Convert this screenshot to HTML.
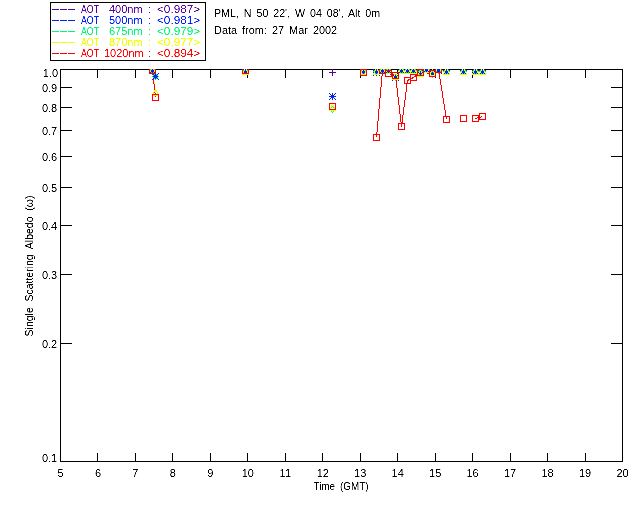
<!DOCTYPE html><html><head><meta charset="utf-8"><style>html,body{margin:0;padding:0;background:#fff;}svg{display:block;will-change:transform}text{font-family:"Liberation Sans",sans-serif;}</style></head><body>
<svg width="640" height="512" viewBox="0 0 640 512">
<rect width="640" height="512" fill="#fff"/>
<defs><filter id="k" x="0" y="0" width="640" height="512" filterUnits="userSpaceOnUse" color-interpolation-filters="sRGB"><feComponentTransfer><feFuncA type="linear" slope="2" intercept="-0.5"/></feComponentTransfer></filter><clipPath id="c"><rect x="60" y="69" width="563" height="393"/></clipPath>
<path id="sP" d="M-3 0h1v1h-1zM-2 0h1v1h-1zM-1 0h1v1h-1zM0 0h1v1h-1zM1 0h1v1h-1zM2 0h1v1h-1zM3 0h1v1h-1zM0 -3h1v1h-1zM0 -2h1v1h-1zM0 -1h1v1h-1zM0 1h1v1h-1zM0 2h1v1h-1zM0 3h1v1h-1z"/>
<path id="sB" d="M-3 0h1v1h-1zM-2 0h1v1h-1zM-1 0h1v1h-1zM0 0h1v1h-1zM1 0h1v1h-1zM2 0h1v1h-1zM3 0h1v1h-1zM0 -3h1v1h-1zM0 -2h1v1h-1zM0 -1h1v1h-1zM0 1h1v1h-1zM0 2h1v1h-1zM0 3h1v1h-1zM-3 -3h1v1h-1zM-2 -2h1v1h-1zM-1 -1h1v1h-1zM1 1h1v1h-1zM2 2h1v1h-1zM3 3h1v1h-1zM-3 3h1v1h-1zM-2 2h1v1h-1zM-1 1h1v1h-1zM1 -1h1v1h-1zM2 -2h1v1h-1zM3 -3h1v1h-1z"/>
<path id="sG" d="M-3 0h1v1h-1zM-2 -1h1v1h-1zM-1 -2h1v1h-1zM0 -3h1v1h-1zM1 -2h1v1h-1zM2 -1h1v1h-1zM3 0h1v1h-1zM2 1h1v1h-1zM1 2h1v1h-1zM0 3h1v1h-1zM-1 2h1v1h-1zM-2 1h1v1h-1z"/>
<path id="sY" d="M0 -3h1v1h-1zM-1 -2h1v1h-1zM1 -2h1v1h-1zM-1 -1h1v1h-1zM1 -1h1v1h-1zM-2 0h1v1h-1zM2 0h1v1h-1zM-2 1h1v1h-1zM2 1h1v1h-1zM-3 2h1v1h-1zM3 2h1v1h-1zM-3 3h1v1h-1zM-2 3h1v1h-1zM-1 3h1v1h-1zM0 3h1v1h-1zM1 3h1v1h-1zM2 3h1v1h-1zM3 3h1v1h-1z"/>
<path id="sR" d="M-3 -3h1v1h-1zM-2 -3h1v1h-1zM-1 -3h1v1h-1zM0 -3h1v1h-1zM1 -3h1v1h-1zM2 -3h1v1h-1zM3 -3h1v1h-1zM-3 3h1v1h-1zM-2 3h1v1h-1zM-1 3h1v1h-1zM0 3h1v1h-1zM1 3h1v1h-1zM2 3h1v1h-1zM3 3h1v1h-1zM-3 -2h1v1h-1zM-3 -1h1v1h-1zM-3 0h1v1h-1zM-3 1h1v1h-1zM-3 2h1v1h-1zM3 -2h1v1h-1zM3 -1h1v1h-1zM3 0h1v1h-1zM3 1h1v1h-1zM3 2h1v1h-1z"/>
</defs>
<g shape-rendering="crispEdges" stroke="#000" stroke-width="1" fill="none">
<rect x="60.5" y="69.5" width="562" height="392"/>
<path d="M97.5 461V453M97.5 70V78M135.5 461V453M135.5 70V78M172.5 461V453M172.5 70V78M210.5 461V453M210.5 70V78M247.5 461V453M247.5 70V78M285.5 461V453M285.5 70V78M322.5 461V453M322.5 70V78M360.5 461V453M360.5 70V78M397.5 461V453M397.5 70V78M435.5 461V453M435.5 70V78M472.5 461V453M472.5 70V78M510.5 461V453M510.5 70V78M547.5 461V453M547.5 70V78M585.5 461V453M585.5 70V78M61 343.5H72M622 343.5H611M61 274.5H72M622 274.5H611M61 225.5H72M622 225.5H611M61 187.5H72M622 187.5H611M61 156.5H72M622 156.5H611M61 130.5H72M622 130.5H611M61 107.5H72M622 107.5H611M61 87.5H72M622 87.5H611"/>
</g>
<g font-size="11" fill="#000" filter="url(#k)">
<text x="60.5" y="477" text-anchor="middle">5</text>
<text x="97.97" y="477" text-anchor="middle">6</text>
<text x="135.43" y="477" text-anchor="middle">7</text>
<text x="172.9" y="477" text-anchor="middle">8</text>
<text x="210.37" y="477" text-anchor="middle">9</text>
<text x="247.83" y="477" text-anchor="middle">10</text>
<text x="285.3" y="477" text-anchor="middle">11</text>
<text x="322.77" y="477" text-anchor="middle">12</text>
<text x="360.23" y="477" text-anchor="middle">13</text>
<text x="397.7" y="477" text-anchor="middle">14</text>
<text x="435.17" y="477" text-anchor="middle">15</text>
<text x="472.63" y="477" text-anchor="middle">16</text>
<text x="510.1" y="477" text-anchor="middle">17</text>
<text x="547.57" y="477" text-anchor="middle">18</text>
<text x="585.03" y="477" text-anchor="middle">19</text>
<text x="622.5" y="477" text-anchor="middle">20</text>
<text x="58" y="77" text-anchor="end">1.0</text>
<text x="57.2" y="92" text-anchor="end">0.9</text>
<text x="57.2" y="112" text-anchor="end">0.8</text>
<text x="57.2" y="135" text-anchor="end">0.7</text>
<text x="57.2" y="161" text-anchor="end">0.6</text>
<text x="57.2" y="192" text-anchor="end">0.5</text>
<text x="57.2" y="230" text-anchor="end">0.4</text>
<text x="57.2" y="279" text-anchor="end">0.3</text>
<text x="57.2" y="348" text-anchor="end">0.2</text>
<text x="57.2" y="462" text-anchor="end">0.1</text>
<text x="341" y="490" text-anchor="middle" word-spacing="2.5" textLength="54.9" lengthAdjust="spacingAndGlyphs">Time (GMT)</text>
<text transform="translate(33,266) rotate(-90)" text-anchor="middle" word-spacing="3" textLength="140.8" lengthAdjust="spacingAndGlyphs">Single Scattering Albedo (ω)</text>
<text x="214" y="17" word-spacing="2" textLength="166.2" lengthAdjust="spacingAndGlyphs">PML, N 50 22', W 04 08', Alt 0m</text>
<text x="214" y="34" word-spacing="2" textLength="123.2" lengthAdjust="spacingAndGlyphs">Data from: 27 Mar 2002</text>
</g>
<g shape-rendering="crispEdges">
<rect x="50.5" y="2.5" width="155" height="58" fill="none" stroke="#000"/>
<path d="M52 9.5H59M60 9.5H67M68 9.5H75" stroke="#5600a2" fill="none"/>
<path d="M52 20.5H59M60 20.5H67M68 20.5H75" stroke="#0020ff" fill="none"/>
<path d="M52 31.5H59M60 31.5H67M68 31.5H75" stroke="#00f87a" fill="none"/>
<path d="M52 42.5H59M60 42.5H67M68 42.5H75" stroke="#f0ff00" fill="none"/>
<path d="M52 53.5H59M60 53.5H67M68 53.5H75" stroke="#ff0000" fill="none"/>
</g>
<g font-size="11" filter="url(#k)">
<text x="81" y="13" fill="#5600a2" textLength="18" lengthAdjust="spacingAndGlyphs">AOT</text>
<text x="109" y="13" fill="#5600a2">400nm</text>
<text x="148" y="13" fill="#5600a2">:</text>
<text x="157" y="13" fill="#5600a2" textLength="43.2" lengthAdjust="spacingAndGlyphs">&lt;0.987&gt;</text>
<text x="81" y="24" fill="#0020ff" textLength="18" lengthAdjust="spacingAndGlyphs">AOT</text>
<text x="109" y="24" fill="#0020ff">500nm</text>
<text x="148" y="24" fill="#0020ff">:</text>
<text x="157" y="24" fill="#0020ff" textLength="43.2" lengthAdjust="spacingAndGlyphs">&lt;0.981&gt;</text>
<text x="81" y="35" fill="#00f87a" textLength="18" lengthAdjust="spacingAndGlyphs">AOT</text>
<text x="109" y="35" fill="#00f87a">675nm</text>
<text x="148" y="35" fill="#00f87a">:</text>
<text x="157" y="35" fill="#00f87a" textLength="43.2" lengthAdjust="spacingAndGlyphs">&lt;0.979&gt;</text>
<text x="81" y="46" fill="#f0ff00" textLength="18" lengthAdjust="spacingAndGlyphs">AOT</text>
<text x="109" y="46" fill="#f0ff00">870nm</text>
<text x="148" y="46" fill="#f0ff00">:</text>
<text x="157" y="46" fill="#f0ff00" textLength="43.2" lengthAdjust="spacingAndGlyphs">&lt;0.977&gt;</text>
<text x="81" y="57" fill="#ff0000" textLength="18" lengthAdjust="spacingAndGlyphs">AOT</text>
<text x="104" y="57" fill="#ff0000">1020nm</text>
<text x="148" y="57" fill="#ff0000">:</text>
<text x="157" y="57" fill="#ff0000" textLength="43.2" lengthAdjust="spacingAndGlyphs">&lt;0.894&gt;</text>
</g>
<g clip-path="url(#c)">
<g shape-rendering="crispEdges" fill="none" stroke-width="1">
<path d="M152.5 70.5 L155.5 76.5" stroke="#5600a2"/>
<path d="M376.5 70.5 L382.5 70.5 L388.5 70.5 L395.5 77.5 L401.5 70.5 L407.5 70.5 L413.5 70.5 L420.5 70.5 L426.5 69.5 L432.5 70.5 L438.5 70.5 L446.5 70.5" stroke="#5600a2"/>
<path d="M475.5 70.5 L482.5 70.5" stroke="#5600a2"/>
<path d="M152.5 70.5 L155.5 76.5" stroke="#0020ff"/>
<path d="M376.5 72.5 L382.5 70.5 L388.5 70.5 L395.5 77.5 L401.5 70.5 L407.5 70.5 L413.5 70.5 L420.5 72.5 L426.5 69.5 L432.5 73.5 L438.5 70.5 L446.5 71.5" stroke="#0020ff"/>
<path d="M475.5 71.5 L482.5 71.5" stroke="#0020ff"/>
<path d="M152.5 70.5 L155.5 76.5" stroke="#00f87a"/>
<path d="M376.5 71.5 L382.5 70.5 L388.5 70.5 L395.5 77.5 L401.5 70.5 L407.5 70.5 L413.5 70.5 L420.5 72.5 L426.5 69.5 L432.5 74.5 L438.5 70.5 L446.5 71.5" stroke="#00f87a"/>
<path d="M475.5 71.5 L482.5 71.5" stroke="#00f87a"/>
<path d="M152.5 70.5 L155.5 92.5" stroke="#f0ff00"/>
<path d="M376.5 71.5 L382.5 70.5 L388.5 70.5 L395.5 76.5 L401.5 70.5 L407.5 70.5 L413.5 70.5 L420.5 73.5 L426.5 69.5 L432.5 72.5 L438.5 69.5 L446.5 71.5" stroke="#f0ff00"/>
<path d="M475.5 71.5 L482.5 71.5" stroke="#f0ff00"/>
<path d="M152.5 70.5 L155.5 97.5" stroke="#ff0000"/>
<path d="M376.5 137.5 L382.5 70.5 L388.5 73.5 L395.5 75.5 L401.5 126.5 L407.5 80.5 L413.5 77.5 L420.5 72.5 L432.5 73.5 L438.5 69.5 L446.5 119.5" stroke="#ff0000"/>
<path d="M475.5 118.5 L482.5 116.5" stroke="#ff0000"/>
</g>
<g shape-rendering="crispEdges">
<use href="#sP" x="152" y="70" fill="#5600a2"/>
<use href="#sP" x="155" y="76" fill="#5600a2"/>
<use href="#sP" x="245" y="70" fill="#5600a2"/>
<use href="#sP" x="332" y="72" fill="#5600a2"/>
<use href="#sP" x="363" y="70" fill="#5600a2"/>
<use href="#sP" x="376" y="70" fill="#5600a2"/>
<use href="#sP" x="382" y="70" fill="#5600a2"/>
<use href="#sP" x="388" y="70" fill="#5600a2"/>
<use href="#sP" x="395" y="77" fill="#5600a2"/>
<use href="#sP" x="401" y="70" fill="#5600a2"/>
<use href="#sP" x="407" y="70" fill="#5600a2"/>
<use href="#sP" x="413" y="70" fill="#5600a2"/>
<use href="#sP" x="420" y="70" fill="#5600a2"/>
<use href="#sP" x="426" y="69" fill="#5600a2"/>
<use href="#sP" x="432" y="70" fill="#5600a2"/>
<use href="#sP" x="438" y="70" fill="#5600a2"/>
<use href="#sP" x="446" y="70" fill="#5600a2"/>
<use href="#sP" x="463" y="70" fill="#5600a2"/>
<use href="#sP" x="475" y="70" fill="#5600a2"/>
<use href="#sP" x="482" y="70" fill="#5600a2"/>
<use href="#sB" x="152" y="70" fill="#0020ff"/>
<use href="#sB" x="155" y="76" fill="#0020ff"/>
<use href="#sB" x="245" y="71" fill="#0020ff"/>
<use href="#sB" x="332" y="96" fill="#0020ff"/>
<use href="#sB" x="363" y="72" fill="#0020ff"/>
<use href="#sB" x="376" y="72" fill="#0020ff"/>
<use href="#sB" x="382" y="70" fill="#0020ff"/>
<use href="#sB" x="388" y="70" fill="#0020ff"/>
<use href="#sB" x="395" y="77" fill="#0020ff"/>
<use href="#sB" x="401" y="70" fill="#0020ff"/>
<use href="#sB" x="407" y="70" fill="#0020ff"/>
<use href="#sB" x="413" y="70" fill="#0020ff"/>
<use href="#sB" x="420" y="72" fill="#0020ff"/>
<use href="#sB" x="426" y="69" fill="#0020ff"/>
<use href="#sB" x="432" y="73" fill="#0020ff"/>
<use href="#sB" x="438" y="70" fill="#0020ff"/>
<use href="#sB" x="446" y="71" fill="#0020ff"/>
<use href="#sB" x="463" y="71" fill="#0020ff"/>
<use href="#sB" x="475" y="71" fill="#0020ff"/>
<use href="#sB" x="482" y="71" fill="#0020ff"/>
<use href="#sG" x="152" y="70" fill="#00f87a"/>
<use href="#sG" x="155" y="76" fill="#00f87a"/>
<use href="#sG" x="245" y="71" fill="#00f87a"/>
<use href="#sG" x="332" y="109" fill="#00f87a"/>
<use href="#sG" x="363" y="71" fill="#00f87a"/>
<use href="#sG" x="376" y="71" fill="#00f87a"/>
<use href="#sG" x="382" y="70" fill="#00f87a"/>
<use href="#sG" x="388" y="70" fill="#00f87a"/>
<use href="#sG" x="395" y="77" fill="#00f87a"/>
<use href="#sG" x="401" y="70" fill="#00f87a"/>
<use href="#sG" x="407" y="70" fill="#00f87a"/>
<use href="#sG" x="413" y="70" fill="#00f87a"/>
<use href="#sG" x="420" y="72" fill="#00f87a"/>
<use href="#sG" x="426" y="69" fill="#00f87a"/>
<use href="#sG" x="432" y="74" fill="#00f87a"/>
<use href="#sG" x="438" y="70" fill="#00f87a"/>
<use href="#sG" x="446" y="71" fill="#00f87a"/>
<use href="#sG" x="463" y="71" fill="#00f87a"/>
<use href="#sG" x="475" y="71" fill="#00f87a"/>
<use href="#sG" x="482" y="71" fill="#00f87a"/>
<use href="#sY" x="152" y="70" fill="#f0ff00"/>
<use href="#sY" x="155" y="92" fill="#f0ff00"/>
<use href="#sY" x="245" y="71" fill="#f0ff00"/>
<use href="#sY" x="332" y="107" fill="#f0ff00"/>
<use href="#sY" x="363" y="71" fill="#f0ff00"/>
<use href="#sY" x="376" y="71" fill="#f0ff00"/>
<use href="#sY" x="382" y="70" fill="#f0ff00"/>
<use href="#sY" x="388" y="70" fill="#f0ff00"/>
<use href="#sY" x="395" y="76" fill="#f0ff00"/>
<use href="#sY" x="401" y="70" fill="#f0ff00"/>
<use href="#sY" x="407" y="70" fill="#f0ff00"/>
<use href="#sY" x="413" y="70" fill="#f0ff00"/>
<use href="#sY" x="420" y="73" fill="#f0ff00"/>
<use href="#sY" x="426" y="69" fill="#f0ff00"/>
<use href="#sY" x="432" y="72" fill="#f0ff00"/>
<use href="#sY" x="438" y="69" fill="#f0ff00"/>
<use href="#sY" x="446" y="71" fill="#f0ff00"/>
<use href="#sY" x="463" y="71" fill="#f0ff00"/>
<use href="#sY" x="475" y="71" fill="#f0ff00"/>
<use href="#sY" x="482" y="71" fill="#f0ff00"/>
<use href="#sR" x="152" y="70" fill="#ff0000"/>
<use href="#sR" x="155" y="97" fill="#ff0000"/>
<use href="#sR" x="245" y="70" fill="#ff0000"/>
<use href="#sR" x="332" y="106" fill="#ff0000"/>
<use href="#sR" x="363" y="72" fill="#ff0000"/>
<use href="#sR" x="376" y="137" fill="#ff0000"/>
<use href="#sR" x="382" y="70" fill="#ff0000"/>
<use href="#sR" x="388" y="73" fill="#ff0000"/>
<use href="#sR" x="395" y="75" fill="#ff0000"/>
<use href="#sR" x="401" y="126" fill="#ff0000"/>
<use href="#sR" x="407" y="80" fill="#ff0000"/>
<use href="#sR" x="413" y="77" fill="#ff0000"/>
<use href="#sR" x="420" y="72" fill="#ff0000"/>
<use href="#sR" x="432" y="73" fill="#ff0000"/>
<use href="#sR" x="438" y="69" fill="#ff0000"/>
<use href="#sR" x="446" y="119" fill="#ff0000"/>
<use href="#sR" x="463" y="118" fill="#ff0000"/>
<use href="#sR" x="475" y="118" fill="#ff0000"/>
<use href="#sR" x="482" y="116" fill="#ff0000"/>
</g></g>
</svg></body></html>
